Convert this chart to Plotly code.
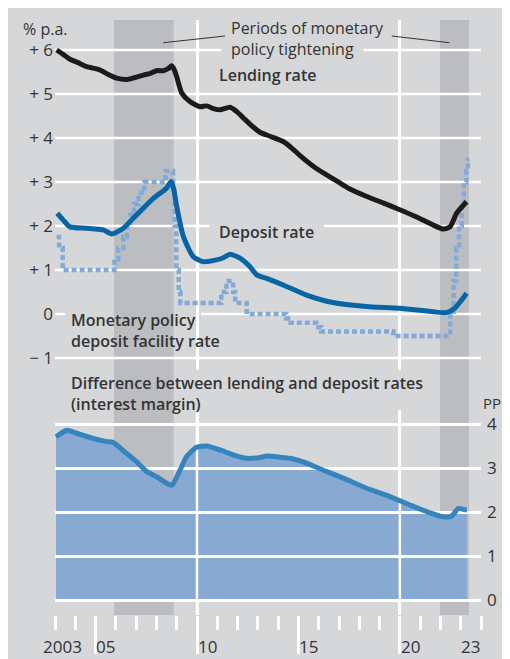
import plotly.graph_objects as go

BG = "#d6d7d9"
SHADE = "#bcbdc1"
GRID = "white"
INK = "#333333"
FONT = "Open Sans"

# decimal years / % p.a.
lending_x = [2003.08, 2003.4, 2003.74, 2004.2, 2004.56, 2005.2, 2005.6, 2006.04, 2006.53,
             2006.9, 2007.35, 2007.7, 2008.0, 2008.34, 2008.6, 2008.75, 2008.88, 2009.0,
             2009.25, 2009.65, 2010.15, 2010.48, 2010.8, 2011.13, 2011.63, 2011.96, 2012.3,
             2012.6, 2013.1, 2013.6, 2014.25, 2014.7, 2015.08, 2015.9, 2016.9, 2017.54,
             2018.37, 2019.2, 2020.0, 2020.8, 2021.65, 2022.14, 2022.47, 2022.8, 2023.29]
lending_y = [6.00, 5.90, 5.79, 5.70, 5.62, 5.55, 5.45, 5.36, 5.33,
             5.37, 5.43, 5.47, 5.53, 5.53, 5.58, 5.64, 5.55, 5.39,
             5.02, 4.83, 4.71, 4.73, 4.67, 4.64, 4.70, 4.60, 4.45,
             4.32, 4.13, 4.04, 3.92, 3.76, 3.60, 3.30, 3.02, 2.84,
             2.67, 2.52, 2.37, 2.21, 2.02, 1.93, 1.98, 2.29, 2.55]

deposit_x = [2003.11, 2003.4, 2003.74, 2004.56, 2005.38, 2005.8, 2006.37, 2006.8, 2007.19,
             2007.85, 2008.5, 2008.72, 2008.85, 2009.0, 2009.33, 2009.82, 2010.31, 2010.97,
             2011.3, 2011.63, 2012.12, 2012.6, 2012.94, 2013.43, 2014.25, 2015.4, 2016.7,
             2018.37, 2020.0, 2021.65, 2022.3, 2022.7, 2023.05, 2023.29]
deposit_y = [2.29, 2.14, 1.98, 1.95, 1.91, 1.82, 1.95, 2.15, 2.33,
             2.63, 2.86, 3.01, 2.85, 2.44, 1.76, 1.30, 1.19, 1.23,
             1.28, 1.36, 1.27, 1.08, 0.89, 0.81, 0.66, 0.43, 0.26,
             0.17, 0.13, 0.05, 0.03, 0.13, 0.32, 0.47]

# monetary policy deposit facility rate (step changes)
dfr_x = [2003.08, 2003.2, 2003.38, 2005.93, 2006.12, 2006.37, 2006.55, 2006.72, 2006.9,
         2007.12, 2007.4, 2008.45, 2008.82, 2008.9, 2008.98, 2009.1, 2009.18, 2011.2,
         2011.45, 2011.78, 2011.88, 2012.45, 2014.4, 2014.62, 2015.88, 2016.12, 2019.68,
         2022.48, 2022.65, 2022.78, 2022.92, 2023.05, 2023.15, 2023.28, 2023.36, 2023.42]
dfr_y = [1.75, 1.50, 1.00, 1.25, 1.50, 1.75, 2.00, 2.25, 2.50,
         2.75, 3.00, 3.25, 2.75, 2.00, 1.00, 0.50, 0.25, 0.50,
         0.75, 0.50, 0.25, 0.00, -0.10, -0.20, -0.30, -0.40, -0.50,
         0.00, 0.75, 1.50, 2.00, 2.50, 3.00, 3.25, 3.50, 3.50]

# interest margin, percentage points
margin_x = [2003.05, 2003.58, 2004.07, 2004.89, 2005.55, 2005.87, 2006.53, 2007.03, 2007.52,
            2008.01, 2008.75, 2009.16, 2009.49, 2009.98, 2010.48, 2011.13, 2011.79, 2012.45,
            2013.11, 2013.44, 2014.58, 2015.24, 2016.23, 2017.21, 2018.37, 2019.51, 2020.5,
            2021.49, 2022.14, 2022.56, 2022.88, 2023.21, 2023.3]
margin_y = [3.71, 3.86, 3.79, 3.67, 3.60, 3.58, 3.33, 3.14, 2.92,
            2.80, 2.61, 2.95, 3.26, 3.47, 3.50, 3.41, 3.30, 3.22,
            3.24, 3.27, 3.22, 3.14, 2.95, 2.77, 2.54, 2.35, 2.16,
            1.98, 1.89, 1.91, 2.08, 2.05, 2.05]

tightening = [(2005.91, 2008.85), (2021.98, 2023.41)]

top_ticks = [-1, 0, 1, 2, 3, 4, 5, 6]
top_ticktext = ["\u2212 1", "0", "+ 1", "+ 2", "+ 3", "+ 4", "+ 5", "+ 6"]
pp_ticks = [0, 1, 2, 3, 4]
year_labels = [(2003.35, "2003"), (2005.5, "05"), (2010.5, "10"), (2015.5, "15"),
               (2020.5, "20"), (2023.5, "23")]

X_RANGE = [2003, 2024]
PW, PH = 426, 595          # plot area, px


def px_x(px):
    # screen pixel -> paper fraction (plot area starts at screen x=55)
    return (px - 55) / PW


def px_y(py):
    # screen pixel -> paper fraction (plot area ends at screen y=615)
    return (615 - py) / PH


fig = go.Figure()

fig.add_trace(go.Scatter(x=dfr_x, y=dfr_y, mode="lines", xaxis="x", yaxis="y",
                         line=dict(color="#82a9d8", width=4.5, dash="5px,3px", shape="hv")))
fig.add_trace(go.Scatter(x=deposit_x, y=deposit_y, mode="lines", xaxis="x", yaxis="y",
                         line=dict(color="#0764a5", width=5, shape="spline", smoothing=0.6)))
fig.add_trace(go.Scatter(x=lending_x, y=lending_y, mode="lines", xaxis="x", yaxis="y",
                         line=dict(color="#1b1b1b", width=5, shape="spline", smoothing=0.6)))
# margin area (below the grid) and its outline (above the grid)
fig.add_trace(go.Scatter(x=margin_x, y=margin_y, mode="lines", xaxis="x", yaxis="y2",
                         fill="tozeroy", fillcolor="#87a9d2",
                         line=dict(width=0, shape="spline", smoothing=0.6)))
fig.add_trace(go.Scatter(x=margin_x, y=margin_y, mode="lines", xaxis="x2", yaxis="y3",
                         line=dict(color="#3684be", width=5, shape="spline", smoothing=0.6)))

shapes = []
shapes.append(dict(type="rect", xref="paper", yref="paper", layer="below",
                   x0=px_x(508), x1=px_x(512), y0=px_y(670), y1=px_y(0),
                   fillcolor="white", line_width=0))
for a, b in tightening:
    shapes.append(dict(type="rect", xref="x", yref="paper", layer="below",
                       x0=a, x1=b, y0=0, y1=1, fillcolor=SHADE, line_width=0))

# horizontal grid in the upper panel, interrupted behind labels
gaps = {6: [(2003, 2011.2), (2018.2, 2024)],
        2: [(2003, 2010.62), (2016.26, 2024)],
        0: [(2003, 2003.5), (2010.2, 2024)]}
for v in top_ticks:
    for a, b in gaps.get(v, [(2003, 2024)]):
        shapes.append(dict(type="line", xref="x", yref="y", layer="between",
                           x0=a, x1=b, y0=v, y1=v, line=dict(color=GRID, width=2.5)))
# vertical lines in the lower panel
for yr in (2010, 2020):
    shapes.append(dict(type="line", xref="x2", yref="y3", layer="between",
                       x0=yr, x1=yr, y0=-0.5, y1=4.6, line=dict(color=GRID, width=2.5)))
# leader lines for the tightening label
shapes.append(dict(type="line", xref="x", yref="y", layer="above",
                   x0=2008.34, y0=6.166, x1=2011.38, y1=6.318, line=dict(color=INK, width=1)))
shapes.append(dict(type="line", xref="x", yref="y", layer="above",
                   x0=2019.6, y0=6.318, x1=2022.44, y1=6.166, line=dict(color=INK, width=1)))


def label(text, x, y, weight=400, anchor="left", size=16):
    return dict(text=text, x=x, y=y, xref="paper", yref="paper", xanchor=anchor,
                yanchor="middle", align="left", showarrow=False,
                font=dict(family=FONT, size=size, color=INK, weight=weight))


annotations = [
    label("% p.a.", px_x(21), px_y(29)),
    label("Periods of monetary<br>policy tightening", px_x(229), px_y(38)),
    label("Lending rate", px_x(217), px_y(75), weight=600),
    label("Deposit rate", px_x(217), px_y(232), weight=600),
    label("Monetary policy<br>deposit facility rate", px_x(69), px_y(331), weight=600),
    label("Difference between lending and deposit rates<br>(interest margin)",
          px_x(69), px_y(393), weight=600),
    label("PP", px_x(481), px_y(403), size=15),
]
for x, t in year_labels:
    annotations.append(dict(text=t, x=x, y=px_y(646), xref="x", yref="paper",
                            xanchor="center", yanchor="middle", showarrow=False,
                            font=dict(family=FONT, size=17, color=INK)))

# the page adds an 8 px body margin, so the figure is 8 px smaller than the window
fig.update_layout(
    width=502, height=651,
    margin=dict(l=47, r=29, t=12, b=44, autoexpand=False),
    paper_bgcolor=BG, plot_bgcolor="rgba(0,0,0,0)",
    showlegend=False,
    font=dict(family=FONT, size=17, color=INK),
    shapes=shapes, annotations=annotations,
    xaxis=dict(range=X_RANGE, anchor="y", showgrid=True, gridcolor=GRID, gridwidth=2.5,
               tickvals=[2010, 2020], showticklabels=False, ticks="", zeroline=False,
               showline=False),
    xaxis2=dict(range=X_RANGE, anchor="y3", matches="x", showgrid=False, zeroline=False,
                showline=False, tickvals=[2005, 2010, 2015, 2020], showticklabels=False,
                ticks="outside", ticklen=38, tickwidth=2.5, tickcolor=GRID,
                minor=dict(tick0=2003, dtick=1, ticks="outside", ticklen=14, tickwidth=2.5,
                           tickcolor=GRID, showgrid=False)),
    yaxis=dict(domain=[px_y(370), 1], range=[-1.2727, 6.6818], anchor="x",
               showgrid=False, zeroline=False, tickvals=top_ticks, ticktext=top_ticktext,
               ticks="", ticklabelstandoff=1, tickfont=dict(size=17, color=INK)),
    yaxis2=dict(domain=[0, px_y(410)], range=[-0.34091, 4.31818], anchor="x",
                visible=False),
    yaxis3=dict(domain=[0, px_y(410)], range=[-0.34091, 4.31818], anchor="x2",
                side="right", showgrid=True, gridcolor=GRID, gridwidth=2.5, zeroline=False,
                tickvals=pp_ticks, ticks="", ticklabelstandoff=5,
                tickfont=dict(size=17, color=INK)),
)

fig.write_html("out.html")
